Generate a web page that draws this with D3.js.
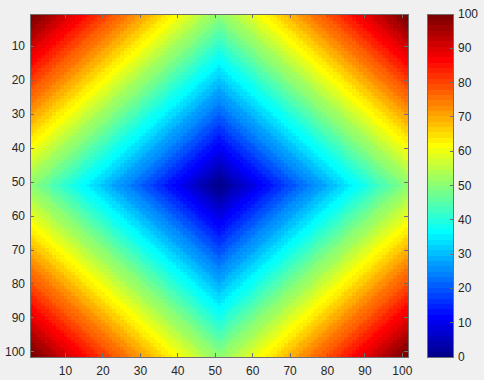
<!DOCTYPE html>
<html lang="en">
<head>
<meta charset="UTF-8">
<script src="https://d3js.org/d3.v7.min.js" charset="utf-8"></script>
<title>imagesc</title>
<style>
  body { margin: 0; background: #f0f0f0; }
  text { font-family: "Liberation Sans", Arial, sans-serif; font-size: 12px; fill: #262626; }
</style>
</head>
<body>
<div id="chart"></div>
<script>
  // distance of each column / row from the centre cell (51)
  const colDist = [50,49,48,47,46,45,44,43,42,41,40,39,38,37,36,35,34,33,32,31,30,29,28,27,26,25,24,23,22,21,20,19,18,17,16,15,14,13,12,11,10,9,8,7,6,5,4,3,2,1,0,
                   1,2,3,4,5,6,7,8,9,10,11,12,13,14,15,16,17,18,19,20,21,22,23,24,25,26,27,28,29,30,31,32,33,34,35,36,37,38,39,40,41,42,43,44,45,46,47,48,49,50];
  const rowDist = [50,49,48,47,46,45,44,43,42,41,40,39,38,37,36,35,34,33,32,31,30,29,28,27,26,25,24,23,22,21,20,19,18,17,16,15,14,13,12,11,10,9,8,7,6,5,4,3,2,1,0,
                   1,2,3,4,5,6,7,8,9,10,11,12,13,14,15,16,17,18,19,20,21,22,23,24,25,26,27,28,29,30,31,32,33,34,35,36,37,38,39,40,41,42,43,44,45,46,47,48,49,50];
  const xTicks = [10, 20, 30, 40, 50, 60, 70, 80, 90, 100];
  const yTicks = [10, 20, 30, 40, 50, 60, 70, 80, 90, 100];
  const cbTicks = [0, 10, 20, 30, 40, 50, 60, 70, 80, 90, 100];
  const cLim = [0, 100];

  const width = 484, height = 380;
  const plot = { left: 30, top: 14, right: 408, bottom: 357 };
  const cb = { left: 427, right: 453 };
  const axisColor = "#6f6f6f";

  // matlab jet(m)
  function jet(m) {
    const n = Math.ceil(m / 4);
    const u = [];
    for (let i = 1; i <= n; i++) u.push(i / n);
    for (let i = 1; i < n; i++) u.push(1);
    for (let i = n; i >= 1; i--) u.push(i / n);
    const off = Math.ceil(n / 2) - (m % 4 === 1 ? 1 : 0);
    const J = d3.range(m).map(() => [0, 0, 0]);
    u.forEach((v, k) => {
      const g = off + k + 1, r = g + n, b = g - n;
      if (r <= m) J[r - 1][0] = v;
      if (g <= m) J[g - 1][1] = v;
      if (b >= 1) J[b - 1][2] = v;
    });
    return J.map(c => d3.rgb(c[0] * 255, c[1] * 255, c[2] * 255).formatHex());
  }
  const cmap = jet(64);
  const colorOf = v => {
    let idx = Math.floor((v - cLim[0]) / (cLim[1] - cLim[0]) * cmap.length);
    return cmap[Math.max(0, Math.min(cmap.length - 1, idx))];
  };

  const nCols = colDist.length, nRows = rowDist.length;
  const x = d3.scaleLinear().domain([0.5, nCols + 0.5]).range([plot.left, plot.right]);
  const y = d3.scaleLinear().domain([0.5, nRows + 0.5]).range([plot.top, plot.bottom]);
  const cy = d3.scaleLinear().domain(cLim).range([plot.bottom, plot.top]);

  const svg = d3.select("#chart").append("svg")
    .attr("width", width)
    .attr("height", height);

  const cells = [];
  rowDist.forEach((rd, i) => colDist.forEach((cd, j) => cells.push({ r: i + 1, c: j + 1, v: rd + cd })));

  svg.append("g")
    .attr("shape-rendering", "crispEdges")
    .selectAll("rect")
    .data(cells)
    .enter()
    .append("rect")
    .attr("x", d => x(d.c - 0.5))
    .attr("y", d => y(d.r - 0.5))
    .attr("width", d => x(d.c + 0.5) - x(d.c - 0.5) + 0.5)
    .attr("height", d => y(d.r + 0.5) - y(d.r - 0.5) + 0.5)
    .attr("fill", d => colorOf(d.v));

  // axes box + inward ticks on all sides
  const tickLen = 4;
  const ax = svg.append("g").attr("stroke", axisColor).attr("fill", "none").attr("shape-rendering", "crispEdges");
  ax.append("rect")
    .attr("x", plot.left).attr("y", plot.top)
    .attr("width", plot.right - plot.left).attr("height", plot.bottom - plot.top);
  xTicks.forEach(t => {
    ax.append("line").attr("x1", x(t)).attr("x2", x(t)).attr("y1", plot.bottom).attr("y2", plot.bottom - tickLen);
    ax.append("line").attr("x1", x(t)).attr("x2", x(t)).attr("y1", plot.top).attr("y2", plot.top + tickLen);
  });
  yTicks.forEach(t => {
    ax.append("line").attr("y1", y(t)).attr("y2", y(t)).attr("x1", plot.left).attr("x2", plot.left + tickLen);
    ax.append("line").attr("y1", y(t)).attr("y2", y(t)).attr("x1", plot.right).attr("x2", plot.right - tickLen);
  });

  svg.append("g").selectAll("text").data(xTicks).enter().append("text")
    .attr("x", d => x(d)).attr("y", 375)
    .attr("text-anchor", "middle")
    .text(d => d);
  svg.append("g").selectAll("text").data(yTicks).enter().append("text")
    .attr("x", plot.left - 5).attr("y", d => y(d) + 4)
    .attr("text-anchor", "end")
    .text(d => d);

  // colorbar
  const band = (cLim[1] - cLim[0]) / cmap.length;
  svg.append("g")
    .attr("shape-rendering", "crispEdges")
    .selectAll("rect")
    .data(cmap)
    .enter()
    .append("rect")
    .attr("x", cb.left)
    .attr("width", cb.right - cb.left)
    .attr("y", (d, i) => cy(cLim[0] + (i + 1) * band))
    .attr("height", (d, i) => cy(cLim[0] + i * band) - cy(cLim[0] + (i + 1) * band) + 0.5)
    .attr("fill", d => d);

  const cbax = svg.append("g").attr("stroke", axisColor).attr("fill", "none").attr("shape-rendering", "crispEdges");
  cbax.append("rect")
    .attr("x", cb.left).attr("y", plot.top)
    .attr("width", cb.right - cb.left).attr("height", plot.bottom - plot.top);
  cbTicks.forEach(t => {
    cbax.append("line").attr("y1", cy(t)).attr("y2", cy(t)).attr("x1", cb.right).attr("x2", cb.right - 3);
  });
  svg.append("g").selectAll("text").data(cbTicks).enter().append("text")
    .attr("x", cb.right + 5).attr("y", d => cy(d) + 4)
    .text(d => d);
</script>
</body>
</html>
